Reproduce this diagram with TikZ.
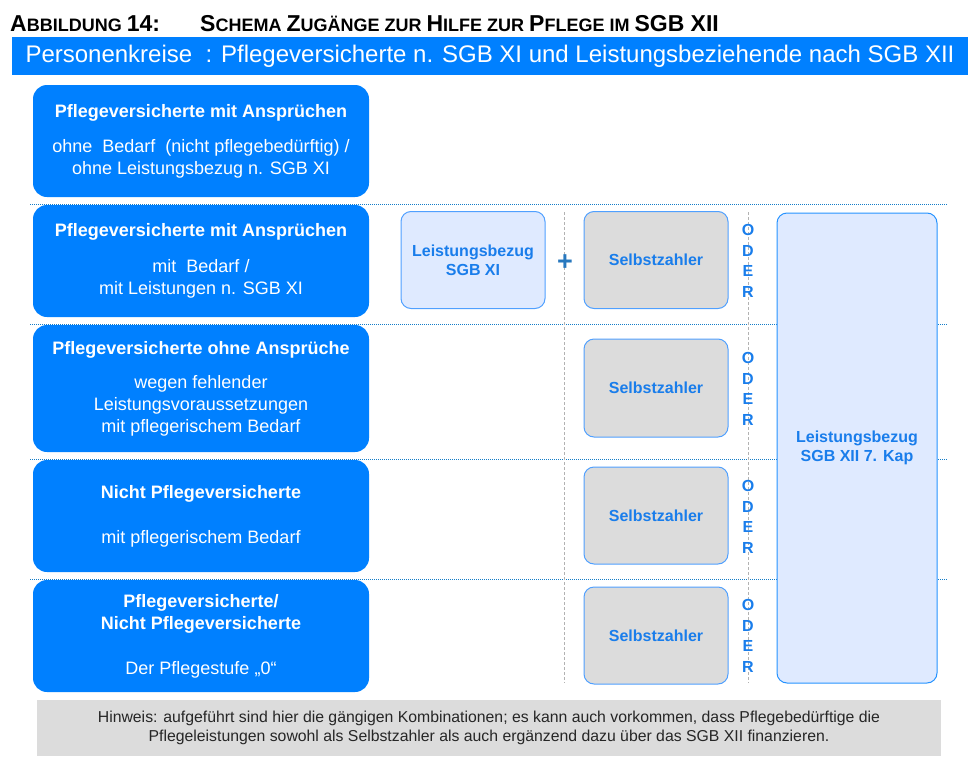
\documentclass[tikz,border=0pt]{standalone}
\usepackage{fontspec}
\setmainfont{Liberation Sans}

\definecolor{kreisblue}{RGB}{0,128,255}
\definecolor{textblue}{RGB}{25,125,235}
\definecolor{lightfill}{RGB}{223,234,255}
\definecolor{edgeblue}{RGB}{80,160,255}
\definecolor{greyfill}{RGB}{220,220,220}
\definecolor{dotblue}{RGB}{20,125,200}
\definecolor{plusblue}{RGB}{40,120,190}

% big and small capitals for the title
\newcommand{\Tb}{\fontsize{23}{26}\selectfont}
\newcommand{\Ts}{\fontsize{18}{26}\selectfont}

\begin{document}
\begin{tikzpicture}[x=1pt,y=-1pt]
	\useasboundingbox (0,0) rectangle (970,758);

	% Style for the boxes
	\tikzstyle{grpbox}=[
	rectangle,
	fill=kreisblue,
	rounded corners=14pt,
	minimum width=336pt,
	minimum height=112pt,
	inner sep=0pt,
	align=center,
	text=white,
	font=\fontsize{18}{22}\selectfont
	]
	\tikzstyle{xibox}=[
	rectangle,
	draw=edgeblue,
	fill=lightfill,
	line width=1pt,
	rounded corners=10pt,
	minimum width=144pt,
	minimum height=97pt,
	align=center,
	text=textblue,
	font=\bfseries\fontsize{16}{19}\selectfont
	]
	\tikzstyle{selfbox}=[xibox, fill=greyfill]
	\tikzstyle{oder}=[inner sep=0pt, align=center, text=textblue, font=\bfseries\fontsize{16}{20.7}\selectfont]
	\tikzstyle{sepline}=[densely dotted, line width=1pt, dotblue]
	\tikzstyle{colline}=[gray!60, line width=0.8pt, dash pattern=on 3pt off 2pt]

	% --- Title ---
	\node[anchor=base west, inner sep=0pt, font=\bfseries] (abb) at (10,31) {\Tb A\Ts BBILDUNG \Tb 14:};
	\node[anchor=base west, inner sep=0pt, font=\bfseries] (schema) at (200,31) {\Tb S\Ts CHEMA \Tb Z\Ts UGÄNGE ZUR \Tb H\Ts ILFE ZUR \Tb P\Ts FLEGE IM \Tb SGB XII};
	\node[rectangle, fill=kreisblue, minimum width=956pt, minimum height=38pt, inner sep=0pt, text=white, font=\fontsize{24}{28}\selectfont] (kreise) at (490,56) {Personenkreise\ \ : Pflegeversicherte n. SGB XI und Leistungsbeziehende nach SGB XII};

	% separating lines
	\draw[sepline] (30,204) -- (948,204);
	\draw[sepline] (30,324) -- (948,324);
	\draw[sepline] (30,459.5) -- (948,459.5);
	\draw[sepline] (30,579) -- (948,579);
	\draw[colline] (564,212) -- (564,683);
	\draw[colline] (748,212) -- (748,683);

	% --- Left column ---
	\node[grpbox] (g1) at (201,141) {\textbf{Pflegeversicherte mit Ansprüchen}\\[13pt]ohne\ \ Bedarf\ \ (nicht pflegebedürftig) /\\ohne Leistungsbezug n. SGB XI};
	\node[grpbox] (g2) at (201,261) {\textbf{Pflegeversicherte mit Ansprüchen}\\[14pt]mit\ \ Bedarf /\\mit Leistungen n. SGB XI};
	\node[grpbox, minimum height=127pt] (g3) at (201,388.5) {\textbf{Pflegeversicherte ohne Ansprüche}\\[12pt]wegen fehlender\\Leistungsvoraussetzungen\\mit pflegerischem Bedarf};
	\node[grpbox] (g4) at (201,516) {\textbf{Nicht Pflegeversicherte}\\[23pt]mit pflegerischem Bedarf};
	\node[grpbox] (g5) at (201,636) {\textbf{Pflegeversicherte/}\\\textbf{Nicht Pflegeversicherte}\\[23pt]Der Pflegestufe „0“};

	% --- Second row ---
	\node[xibox] (lb11) at (473,260) {Leistungsbezug\\SGB XI};
	\node[inner sep=0pt, text=plusblue, font=\bfseries\fontsize{27}{27}\selectfont] (plus) at (565,263) {+};
	\node[selfbox] (sz2) at (656,260) {Selbstzahler};
	\node[oder] (o2) at (748,261) {O\\D\\E\\R};

	% --- Third to fifth row ---
	\node[selfbox, minimum height=98pt] (sz3) at (656,388) {Selbstzahler};
	\node[oder] (o3) at (748,389) {O\\D\\E\\R};
	\node[selfbox] (sz4) at (656,515.5) {Selbstzahler};
	\node[oder] (o4) at (748,517) {O\\D\\E\\R};
	\node[selfbox] (sz5) at (656,635.5) {Selbstzahler};
	\node[oder] (o5) at (748,636) {O\\D\\E\\R};

	% --- SGB XII column ---
	\node[xibox, draw=kreisblue!85, minimum width=160pt, minimum height=470pt, font=\bfseries\fontsize{16}{18.5}\selectfont] (lb12) at (857,448) {Leistungsbezug\\SGB XII 7. Kap};

	% --- Note ---
	\node[rectangle, fill=greyfill, minimum width=904pt, minimum height=56pt, align=center, font=\fontsize{15.8}{19}\selectfont, text=black!85] (hinweis) at (489,728) {Hinweis: aufgeführt sind hier die gängigen Kombinationen; es kann auch vorkommen, dass Pflegebedürftige die\\Pflegeleistungen sowohl als Selbstzahler als auch ergänzend dazu über das SGB XII finanzieren.};
\end{tikzpicture}
\end{document}
